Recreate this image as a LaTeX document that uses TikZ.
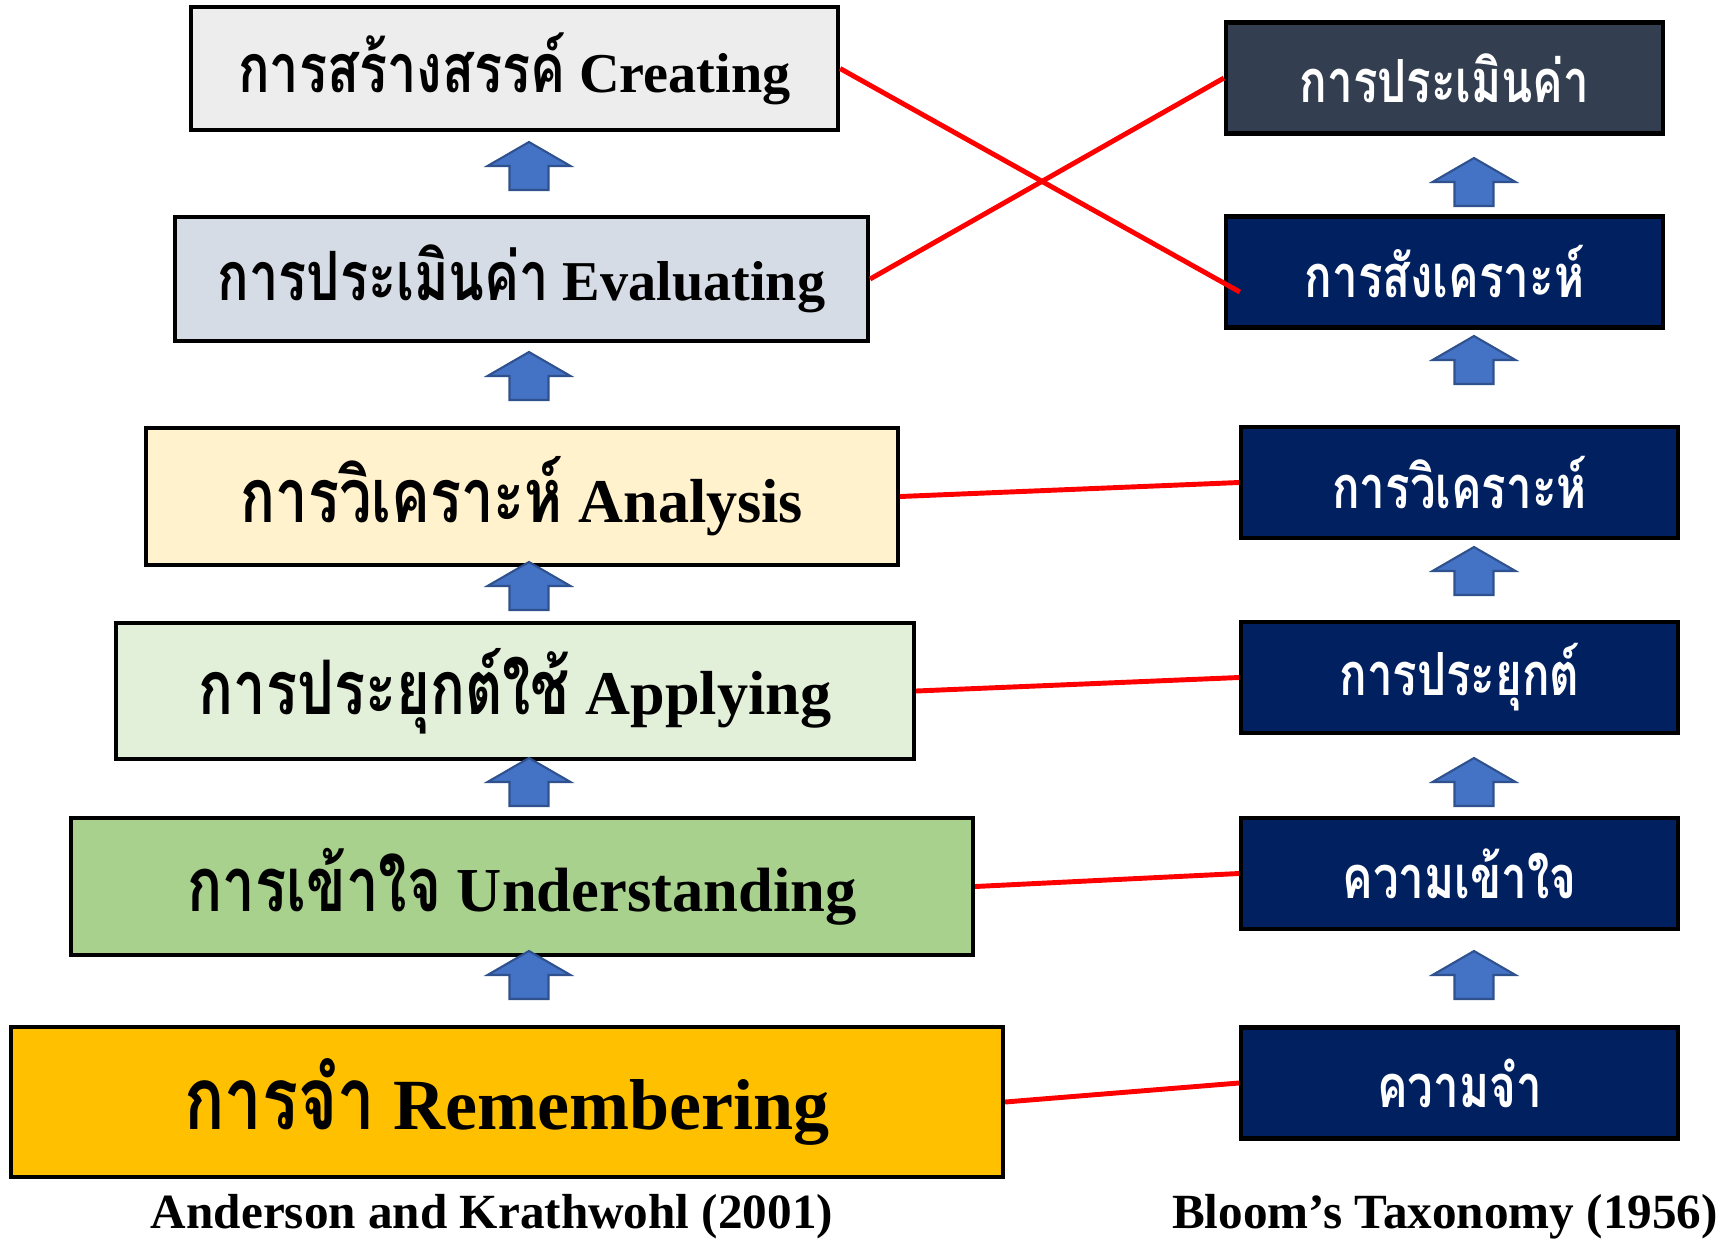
\documentclass[tikz,border=0pt]{standalone}
\usepackage{fontspec}
\setmainfont{Liberation Serif}
\newfontfamily\thaifont[Script=Thai,Scale=1.12]{Loma}
\usepackage{xcolor}
\usepackage{graphicx}
\usepackage{tikz}
\usetikzlibrary{positioning}

\definecolor{creatingfill}{HTML}{EDEDED}
\definecolor{evalfill}{HTML}{D6DCE5}
\definecolor{analysisfill}{HTML}{FFF2CC}
\definecolor{applyfill}{HTML}{E2F0D9}
\definecolor{understandfill}{HTML}{A9D18E}
\definecolor{rememberfill}{HTML}{FFC000}
\definecolor{bloomslate}{HTML}{333F50}
\definecolor{bloomnavy}{HTML}{002060}
\definecolor{arrowblue}{HTML}{4472C4}
\definecolor{arrowedge}{HTML}{2F528F}

\newcommand{\thai}[1]{{\thaifont\scalebox{0.83}[1.08]{#1}}}

\tikzset{
  uparrow/.pic={\draw[arrowedge, fill=arrowblue, line width=0.6pt] (0,0) -- (41.5,24) -- (19.5,24) -- (19.5,48) -- (-19.5,48) -- (-19.5,24) -- (-41.5,24) -- cycle;}
}

\begin{document}
\begin{tikzpicture}[x=0.1mm, y=-0.1mm,
  lvl/.style={draw=black, line width=1.2pt, inner sep=0pt, text centered},
  bloom/.style={lvl, fill=bloomnavy, text=white, minimum width=43.7mm, minimum height=11.1mm, font=\fontsize{14}{16}\selectfont\bfseries},
  redlink/.style={draw=red, line width=1.4pt},
  credit/.style={font=\fontsize{14}{16}\selectfont\bfseries, anchor=base}]
\useasboundingbox (0,0) rectangle (1726,1239);

% Anderson and Krathwohl (2001)
\node[lvl, fill=creatingfill, minimum width=64.7mm, minimum height=12.3mm, font=\fontsize{16}{18}\selectfont\bfseries] (creating) at (514.5,68.5) {\thai{การสร้างสรรค์} Creating};
\node[lvl, fill=evalfill, minimum width=69.3mm, minimum height=12.4mm, font=\fontsize{16}{18}\selectfont\bfseries] (evaluating) at (521.5,279) {\thai{การประเมินค่า} Evaluating};
\node[lvl, fill=analysisfill, minimum width=75.2mm, minimum height=13.7mm, font=\fontsize{17.7}{20}\selectfont\bfseries] (analysis) at (522,496.5) {\thai{การวิเคราะห์} Analysis};
\node[lvl, fill=applyfill, minimum width=79.8mm, minimum height=13.6mm, font=\fontsize{17.7}{20}\selectfont\bfseries] (applying) at (515,691) {\thai{การประยุกต์ใช้} Applying};
\node[lvl, fill=understandfill, minimum width=90.2mm, minimum height=13.7mm, font=\fontsize{17.8}{20}\selectfont\bfseries] (understanding) at (522,886.5) {\thai{การเข้าใจ} Understanding};
\node[lvl, fill=rememberfill, minimum width=99.2mm, minimum height=15mm, font=\fontsize{20.5}{23}\selectfont\bfseries] (remembering) at (507,1102) {\thai{การจำ} Remembering};

% Bloom (1956)
\node[bloom, fill=bloomslate] (bevaluation) at (1444.5,78) {\thai{การประเมินค่า}};
\node[bloom] (bsynthesis) at (1444.5,272) {\thai{การสังเคราะห์}};
\node[bloom] (banalysis) at (1459.5,482.5) {\thai{การวิเคราะห์}};
\node[bloom] (bapplication) at (1459.5,677.5) {\thai{การประยุกต์}};
\node[bloom] (bcomprehension) at (1459.5,873.5) {\thai{ความเข้าใจ}};
\node[bloom] (bknowledge) at (1459.5,1083) {\thai{ความจำ}};

\node[credit] (akcaption) at (492,1228) {Anderson and Krathwohl (2001)};
\node[credit] (bloomcaption) at (1445,1228) {Bloom’s Taxonomy (1956)};

\foreach \t in {142,352,562,758,951} \pic at (529,\t) {uparrow};
\foreach \t in {158,336,547,758,951} \pic at (1474,\t) {uparrow};

\draw[redlink] (creating.east) -- ([xshift=1.6mm, yshift=-2mm]bsynthesis.west);
\draw[redlink] (evaluating.east) -- (bevaluation.west);
\draw[redlink] (analysis.east) -- (banalysis.west);
\draw[redlink] (applying.east) -- (bapplication.west);
\draw[redlink] (understanding.east) -- (bcomprehension.west);
\draw[redlink] (remembering.east) -- (bknowledge.west);
\end{tikzpicture}
\end{document}
